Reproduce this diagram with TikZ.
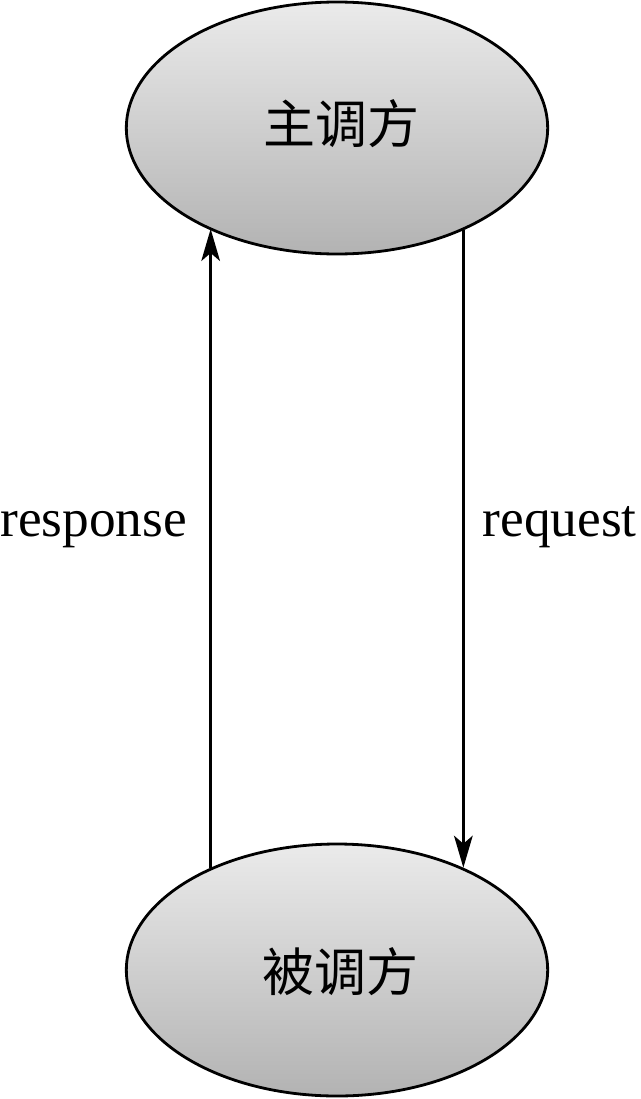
\documentclass[tikz,border=0pt]{standalone}
\usepackage{fontspec}
\setmainfont{Liberation Serif}
\newfontfamily\cjk{Noto Sans CJK SC}
\usetikzlibrary{shapes.geometric,arrows.meta}
\begin{document}
\begin{tikzpicture}[x=0.75pt,y=-0.75pt,
  party/.style={ellipse, draw=black, line width=2.1pt, top color=black!8, bottom color=black!30,
    minimum width=316pt, minimum height=189pt, inner sep=0pt},
  cjklabel/.style={font=\cjk\fontsize{39pt}{42pt}\selectfont},
  flow/.style={line width=1.9pt, -{Stealth[length=24pt,width=14pt,inset=6pt]}},
  flowlabel/.style={font=\fontsize{40pt}{44pt}\selectfont, inner sep=0pt}]
\useasboundingbox (0,0) rectangle (640,1099);
\node[party] (top) at (337,128) {};
\node[party] (bot) at (337,970) {};
\node[cjklabel] (toptext) at (341,124) {主调方};
\node[cjklabel] (bottext) at (340,972) {被调方};
\coordinate (tl) at (top.218.8);
\coordinate (tr) at (top.-39.2);
\coordinate (bl) at (bot.141.2);
\coordinate (br) at (bot.39.2);
\draw[flow] (bl) -- (bl |- tl);
\draw[flow] (tr) -- (tr |- br);
\node[flowlabel, anchor=base west] (resp) at (0,536) {response};
\node[flowlabel, anchor=base east] (req) at (637,536) {request};
\end{tikzpicture}
\end{document}
